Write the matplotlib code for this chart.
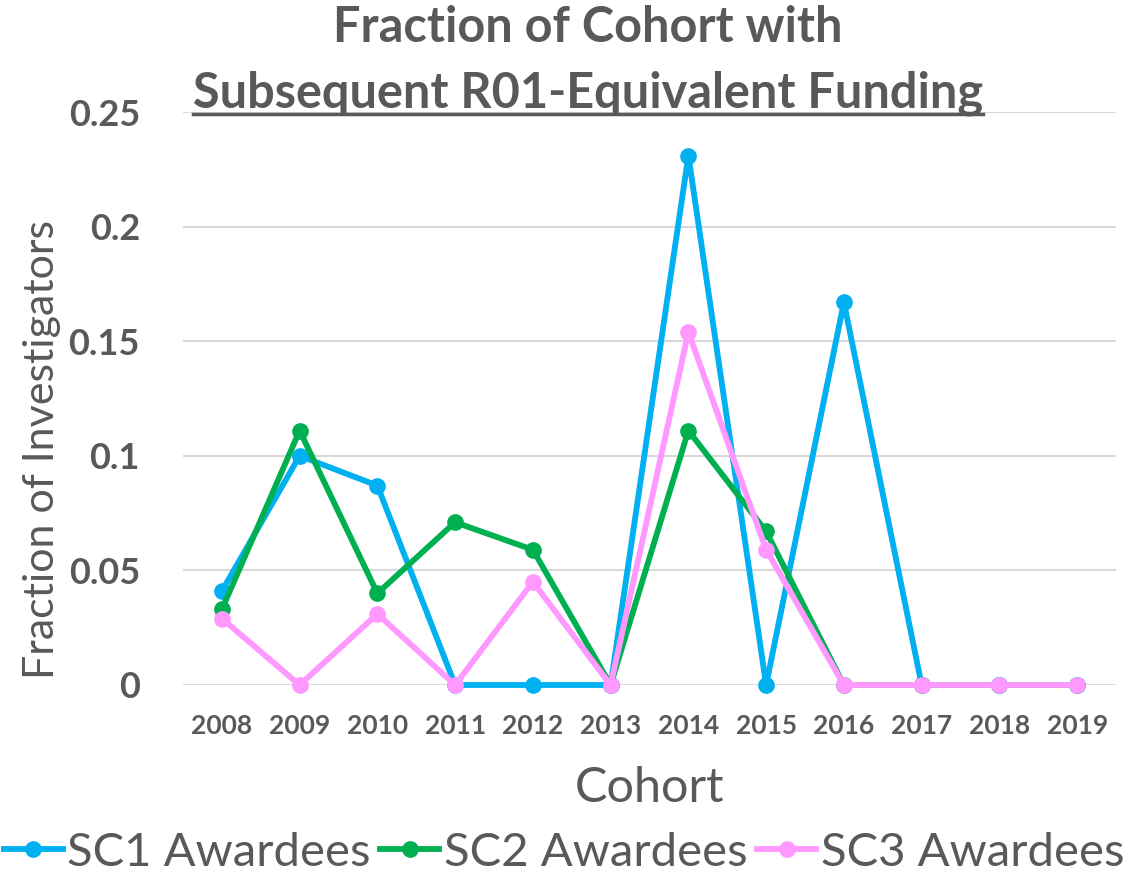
import matplotlib
matplotlib.use("Agg")
import matplotlib.pyplot as plt
from matplotlib.lines import Line2D

cohorts = ["2008", "2009", "2010", "2011", "2012", "2013",
           "2014", "2015", "2016", "2017", "2018", "2019"]
sc1 = [0.041, 0.100, 0.087, 0.0, 0.0, 0.0, 0.231, 0.0, 0.167, 0.0, 0.0, 0.0]
sc2 = [0.033, 0.111, 0.040, 0.071, 0.059, 0.0, 0.111, 0.067, 0.0, 0.0, 0.0, 0.0]
sc3 = [0.029, 0.0, 0.031, 0.0, 0.045, 0.0, 0.154, 0.059, 0.0, 0.0, 0.0, 0.0]
series_names = ["SC1 Awardees", "SC2 Awardees", "SC3 Awardees"]
yticks = [0, 0.05, 0.1, 0.15, 0.2, 0.25]
ytick_labels = ["0", "0.05", "0.1", "0.15", "0.2", "0.25"]

colors = ["#00B0F0", "#00B050", "#FF99FF"]
gray = "#595959"
plt.rcParams["font.family"] = ["Lato", "DejaVu Sans"]

W, H = 1128, 875
fig = plt.figure(figsize=(W / 100, H / 100), dpi=100)
ax = fig.add_axes([183 / W, 1 - 685 / H, (1116 - 183) / W, (685 - 112) / H])

x = list(range(len(cohorts)))
for vals, c, name in zip([sc1, sc2, sc3], colors, series_names):
    ax.plot(x, vals, color=c, lw=4.2, marker="o", ms=11, label=name,
            solid_joinstyle="round", clip_on=False)

ax.set_xlim(-0.5, len(cohorts) - 0.5)
ax.set_ylim(0, 0.25)
ax.set_yticks(yticks)
ax.set_yticklabels(ytick_labels)
ax.set_xticks(x)
ax.set_xticklabels(cohorts)
ax.grid(axis="y", color="#D9D9D9", lw=1.5)
ax.set_axisbelow(True)
for s in ax.spines.values():
    s.set_visible(False)
ax.tick_params(axis="y", length=0, pad=31, labelsize=26, labelcolor=gray)
ax.tick_params(axis="x", length=0, pad=21, labelsize=19, labelcolor=gray)
for t in ax.get_yticklabels() + ax.get_xticklabels():
    t.set_fontweight("bold")

ax.set_ylabel("Fraction of Investigators", fontsize=31, color=gray)
ax.yaxis.label.set_va("center")
ax.yaxis.set_label_coords((42 - 183) / (1116 - 183), (685 - 450) / (685 - 112))
ax.set_xlabel("Cohort", fontsize=35, color=gray)
ax.xaxis.label.set_va("center")
ax.xaxis.set_label_coords(0.5, -(788 - 685) / (685 - 112))

fig.text(588 / W, 1 - 28 / H, "Fraction of Cohort with", ha="center", va="center",
         fontsize=35, fontweight="bold", color=gray)
t2 = fig.text(588 / W, 1 - 93 / H, "Subsequent R01-Equivalent Funding", ha="center",
              va="center", fontsize=35, fontweight="bold", color=gray)

fig.canvas.draw()
bb = t2.get_window_extent()
fig.add_artist(Line2D([bb.x0 / W, bb.x1 / W], [1 - 114 / H, 1 - 114 / H],
                      transform=fig.transFigure, color=gray, lw=2.5))

handles = [Line2D([0], [0], color=c, lw=4.2, marker="o", ms=11) for c in colors]
fig.legend(handles, series_names, loc="center", bbox_to_anchor=(0.5, 1 - 853 / H),
           ncol=3, frameon=False, fontsize=34, labelcolor=gray,
           handlelength=1.25, handletextpad=0.1, columnspacing=0.2,
           borderpad=0, borderaxespad=0)

fig.savefig("out.png", dpi=100)
